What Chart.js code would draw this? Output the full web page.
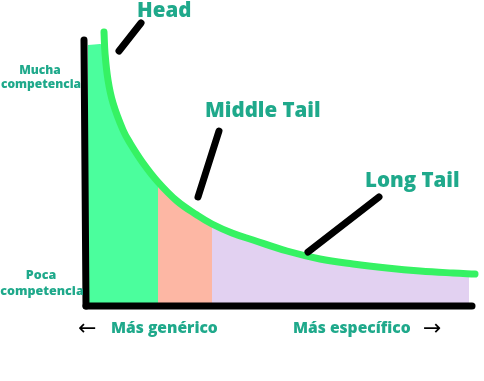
<!DOCTYPE html>
<html>
<head>
<meta charset="utf-8">
<script src="https://cdn.jsdelivr.net/npm/chart.js@4"></script>
<style>
  html, body { margin: 0; padding: 0; background: #fff; }
  #wrap { width: 484px; height: 381px; position: relative; }
</style>
</head>
<body>
<div id="wrap"><canvas id="longTail"></canvas></div>
<script>
// demand curve (origin = corner of the axes)
const curveX = [16, 17, 20, 25, 35, 42, 55, 70, 89, 109, 124, 144, 165, 199, 232, 265, 299, 332, 365, 387];
const curveY = [271, 250, 223, 200, 173, 160, 140, 121, 102, 88, 79, 70, 63, 52, 44, 39, 35, 32, 30, 29];

// shaded area under the curve: flat top near the y axis, ends before the curve does
const areaX = [0, 16.5, 17, 20, 25, 35, 42, 55, 70, 89, 109, 124, 144, 165, 199, 232, 265, 299, 332, 365, 381];
const areaY = [258, 258, 250, 223, 200, 173, 160, 140, 121, 102, 88, 79, 70, 63, 52, 44, 39, 35, 32, 30, 29];

// where the three zones start
const zoneNames = ['Head', 'Middle Tail', 'Long Tail'];
const zoneStart = [0, 70, 124];

// axes and the pointer strokes from each label to the curve
const yAxisLine = [{ x: -4, y: 263 }, { x: -2, y: -3 }];
const xAxisLine = [{ x: -2, y: -3 }, { x: 384, y: -3 }];
const pointers = [
  [{ x: 31, y: 252 }, { x: 53, y: 280 }],
  [{ x: 110, y: 106 }, { x: 131, y: 172 }],
  [{ x: 220, y: 51 }, { x: 291, y: 106 }]
];

const yAxisLabels = [['Mucha', 'competencia'], ['Poca', 'competencia']];
const xAxisLabels = ['Más genérico', 'Más específico'];

const TEAL = '#1fa98b';
const CURVE = '#36f263';
const ZONE_COLORS = ['#4bfe9d', '#fdb7a4', '#e2d1f1'];

function zoneColor(x) {
  let idx = 0;
  zoneStart.forEach((s, i) => { if (x >= s) idx = i; });
  return ZONE_COLORS[idx];
}

const toPts = (xs, ys) => xs.map((x, i) => ({ x, y: ys[i] }));

const labelPlugin = {
  id: 'longTailLabels',
  afterDraw(chart) {
    const c = chart.ctx;
    c.save();
    c.fillStyle = TEAL;
    c.textBaseline = 'alphabetic';

    c.font = '800 20.5px "Open Sans"';
    c.textAlign = 'left';
    c.fillText(zoneNames[0], 137, 17);
    c.fillText(zoneNames[1], 205, 117);
    c.fillText(zoneNames[2], 365, 187);

    c.textAlign = 'center';
    c.font = '800 12px "Open Sans"';
    c.fillText(yAxisLabels[0][0], 40, 74);
    c.fillText(yAxisLabels[0][1], 41, 88);
    c.font = '800 12.5px "Open Sans"';
    c.fillText(yAxisLabels[1][0], 41, 279);
    c.fillText(yAxisLabels[1][1], 42, 295);

    c.font = '800 15.6px "Open Sans"';
    c.textAlign = 'left';
    c.fillText(xAxisLabels[0], 111, 333);
    c.fillText(xAxisLabels[1], 293, 333);

    c.fillStyle = '#000';
    c.font = '22px "DejaVu Sans"';
    c.fillText('←', 78, 335);
    c.fillText('→', 423, 335);
    c.restore();
  }
};

function lineSet(data, color, width) {
  return {
    data, borderColor: color, borderWidth: width, borderCapStyle: 'round',
    pointRadius: 0, fill: false, tension: 0, order: 0
  };
}

function initChart() {
  const el = document.getElementById('longTail');
  if (!el || !window.Chart) return;

  new Chart(el.getContext('2d'), {
    type: 'line',
    data: {
      datasets: [
        {
          data: toPts(areaX, areaY),
          order: 3,
          borderWidth: 0,
          borderColor: 'rgba(0,0,0,0)',
          backgroundColor: ZONE_COLORS[0],
          pointRadius: 0,
          fill: 'origin',
          tension: 0.4,
          segment: { backgroundColor: ctx => zoneColor(ctx.p0.parsed.x) }
        },
        {
          data: toPts(curveX, curveY),
          order: 2,
          borderColor: CURVE,
          borderWidth: 7,
          borderCapStyle: 'round',
          pointRadius: 0,
          fill: false,
          tension: 0.4
        },
        lineSet(yAxisLine, '#000', 7),
        lineSet(xAxisLine, '#000', 7),
        ...pointers.map(p => lineSet(p, '#000', 7))
      ]
    },
    options: {
      responsive: true,
      maintainAspectRatio: false,
      animation: false,
      layout: { padding: 0 },
      plugins: { legend: { display: false }, tooltip: { enabled: false } },
      scales: {
        x: { type: 'linear', min: -88, max: 396, display: false },
        y: { type: 'linear', min: -78, max: 303, display: false }
      }
    },
    plugins: [labelPlugin]
  });
}

if (document.readyState === 'loading') {
  document.addEventListener('DOMContentLoaded', initChart, { once: true });
} else {
  initChart();
}
</script>
</body>
</html>
